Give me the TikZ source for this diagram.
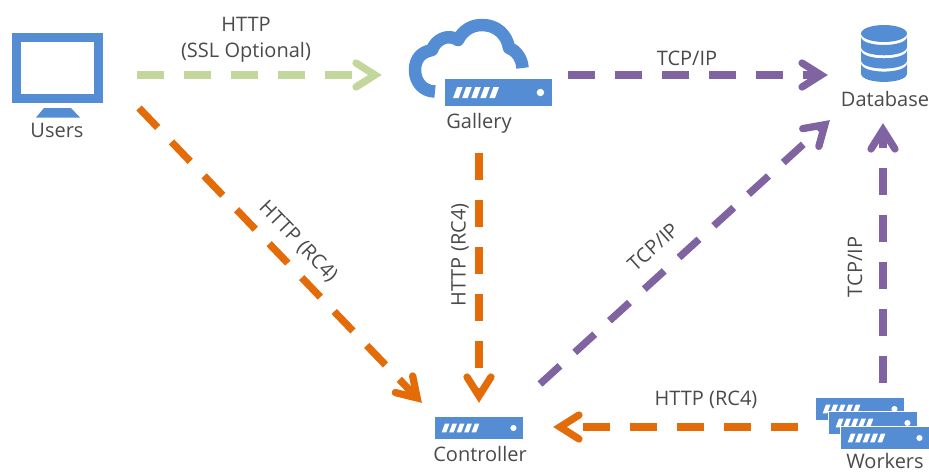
\documentclass[tikz,border=0pt]{standalone}
\usepackage{fontspec}
\setmainfont{Open Sans}
\usetikzlibrary{calc}
\definecolor{iconblue}{HTML}{548DD4}
\definecolor{lgreen}{HTML}{C3D69B}
\definecolor{lorange}{HTML}{E36C09}
\definecolor{lpurple}{HTML}{8064A2}
\definecolor{txt}{HTML}{4A4A4A}
\newcommand{\serverpic}[4]{%
\begin{scope}[shift={(#1,#2)},xscale=#3/106,yscale=#4/27]
\fill[iconblue] (0,0) rectangle (106,27);
\foreach \i in {0,1,2,3,4}{
 \fill[white] ({8+\i*9},19) -- ({12+\i*9},8) -- ({17.5+\i*9},8) -- ({13.5+\i*9},19) -- cycle;}
\fill[white] (94.5,13.5) circle (3.7);
\end{scope}}
\newcommand{\dbband}[1]{%
\fill[iconblue] (861,#1) .. controls (861,#1+11.3) and (907,#1+11.3) .. (907,#1)
 -- (907,#1+10.3) .. controls (907,#1+21.6) and (861,#1+21.6) .. (861,#1+10.3) -- cycle;}
\newcommand{\flowline}[3]{%
\draw[flowdash,#1] (#2) -- ($(#3)!7pt!(#2)$);
\draw[flowhead,#1] ($(#3)!26pt!(#2)!12pt!90:(#3)$) -- ($(#3)!7pt!(#2)$) -- ($(#3)!26pt!(#2)!-12pt!90:(#3)$);}
\tikzset{
 lbl/.style={font=\fontsize{20}{24}\selectfont,text=txt,inner sep=0pt,anchor=center},
 flowdash/.style={line width=7.3pt,dash pattern=on 27pt off 20pt},
 flowhead/.style={line width=7.3pt,line cap=round,line join=miter},
}
\begin{document}
\begin{tikzpicture}[x=1pt,y=-1pt]
\useasboundingbox (0,0) rectangle (929,472);
% Users
\draw[iconblue,line width=9pt] (16.5,37.5) rectangle (98.5,98.5);
\fill[iconblue] (44,108) -- (71,108) -- (80,117.5) -- (36,117.5) -- cycle;
% Cloud
\draw[iconblue,line width=12.5pt,line join=round]
 (435,91.5) .. controls (423,91.5) and (415,82) .. (415,70)
 .. controls (415,59) and (421,52) .. (432,50)
 .. controls (435,40) and (448,33) .. (458,40)
 .. controls (463,30) and (472,25) .. (482,25)
 .. controls (497,25) and (507,35) .. (509,48)
 .. controls (517,51) and (522,59) .. (522.5,68);
\serverpic{445}{79}{107}{27}
% Controller
\serverpic{435}{417}{88}{22}
% Workers
\serverpic{816}{398}{88}{22}
\fill[white] (828,411) rectangle (918,435);
\serverpic{829}{412}{88}{22}
\fill[white] (840,426) rectangle (929,450);
\serverpic{841}{427}{88}{22}
% Database
\fill[iconblue] (884,33.5) ellipse[x radius=23,y radius=8.5];
\dbband{36.5}
\dbband{49.8}
\dbband{63.1}
% Labels
\node[lbl] (lusers) at (57,130) {Users};
\node[lbl] (lgallery) at (479,123) {Gallery};
\node[lbl] (ldatabase) at (885,99) {Database};
\node[lbl] (lcontroller) at (480,454) {Controller};
\node[lbl] (lworkers) at (885,461) {Workers};
\node[lbl] (l1) at (246,24) {HTTP};
\node[lbl] (l2) at (246,52) {(SSL Optional)};
\node[lbl] (l3) at (687,58) {TCP/IP};
\node[lbl,rotate=-46] (l4) at (298,242) {HTTP (RC4)};
\node[lbl,rotate=90] (l5) at (460,255) {HTTP (RC4)};
\node[lbl,rotate=42] (l6) at (653,247) {TCP/IP};
\node[lbl,rotate=90] (l7) at (855,267) {TCP/IP};
\node[lbl] (l8) at (706,400) {HTTP (RC4)};
% Connector ends
\coordinate (usersGreen) at (137,75);
\coordinate (galleryIn) at (382,75);
\coordinate (usersOrange) at (139,108);
\coordinate (controllerInA) at (422,403);
\coordinate (galleryOut) at (568,75);
\coordinate (dbInA) at (828,75);
\coordinate (galleryDown) at (479,153);
\coordinate (controllerInB) at (479,403);
\coordinate (controllerOut) at (540,384);
\coordinate (dbInB) at (830,120);
\coordinate (workersUp) at (883,383);
\coordinate (dbInC) at (883,123);
\coordinate (workersOut) at (798,427);
\coordinate (controllerInC) at (553,427);
% Connectors
\flowline{lgreen}{usersGreen}{galleryIn}
\flowline{lorange}{usersOrange}{controllerInA}
\flowline{lpurple}{galleryOut}{dbInA}
\flowline{lorange}{galleryDown}{controllerInB}
\flowline{lpurple}{controllerOut}{dbInB}
\flowline{lpurple}{workersUp}{dbInC}
\flowline{lorange}{workersOut}{controllerInC}
\end{tikzpicture}
\end{document}
